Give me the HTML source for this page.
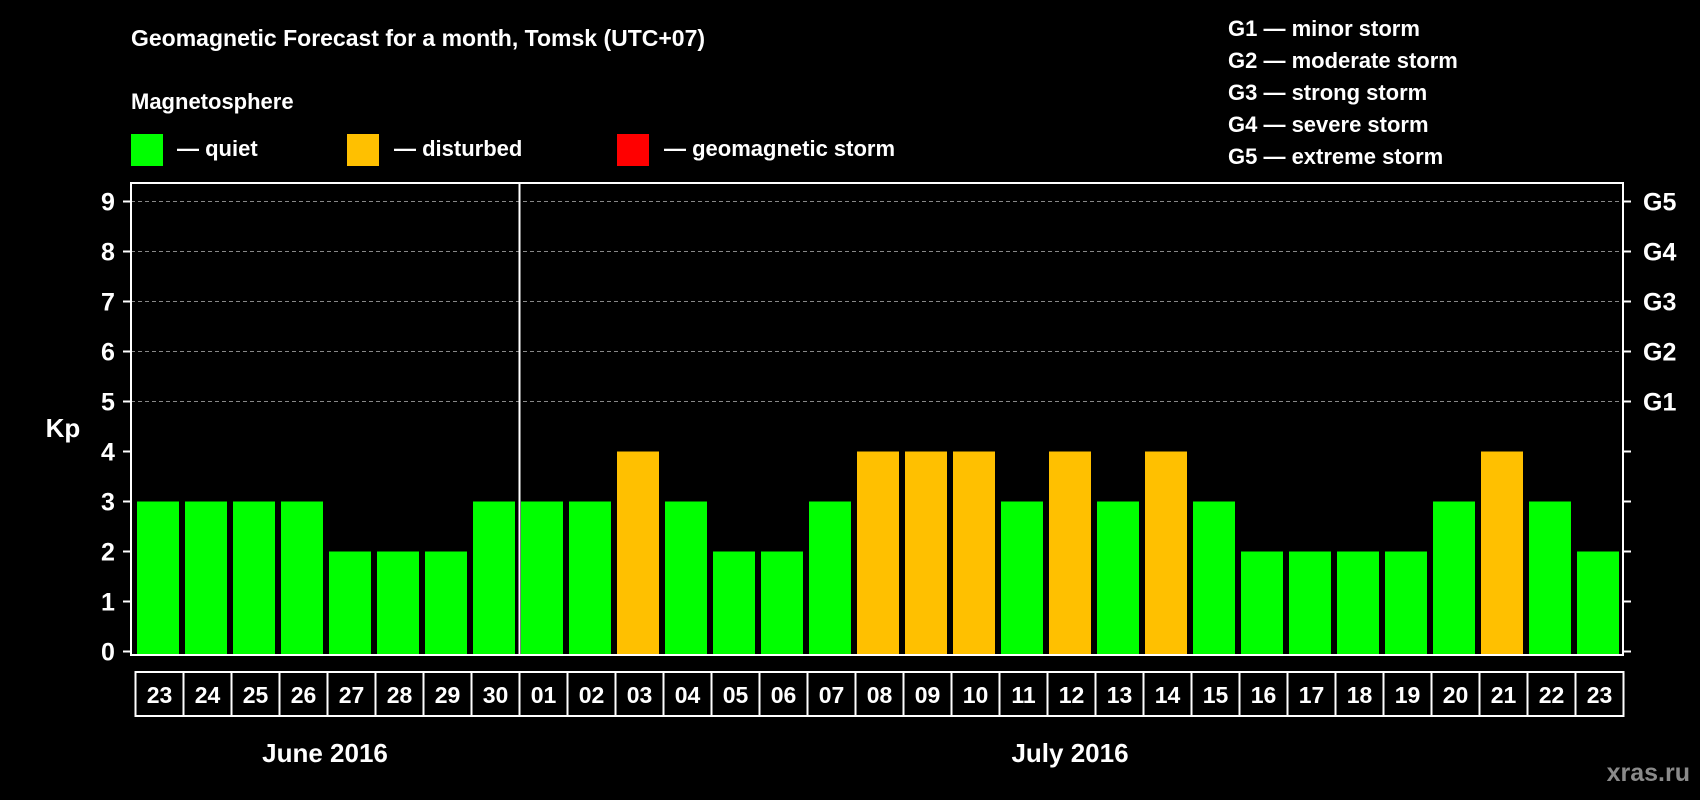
<!DOCTYPE html>
<html><head><meta charset="utf-8"><style>
body{margin:0;background:#000;width:1700px;height:800px;overflow:hidden}
svg{display:block;font-family:"Liberation Sans",sans-serif;font-weight:bold}
</style></head><body>
<svg id="chart" width="1700" height="800" xmlns="http://www.w3.org/2000/svg">
<rect width="1700" height="800" fill="#000"/>
<text x="131" y="46" fill="#fff" font-size="23">Geomagnetic Forecast for a month, Tomsk (UTC+07)</text>
<text x="131" y="109" fill="#fff" font-size="22">Magnetosphere</text>
<rect x="131" y="134" width="32" height="32" fill="#00ff00"/>
<text x="177" y="156" fill="#fff" font-size="22">— quiet</text>
<rect x="347" y="134" width="32" height="32" fill="#ffc000"/>
<text x="394" y="156" fill="#fff" font-size="22">— disturbed</text>
<rect x="617" y="134" width="32" height="32" fill="#ff0000"/>
<text x="664" y="156" fill="#fff" font-size="22">— geomagnetic storm</text>
<g fill="#fff" font-size="22">
<text x="1228" y="36">G1 — minor storm</text>
<text x="1228" y="68">G2 — moderate storm</text>
<text x="1228" y="100">G3 — strong storm</text>
<text x="1228" y="132">G4 — severe storm</text>
<text x="1228" y="164">G5 — extreme storm</text>
</g>
<text x="63" y="437" fill="#fff" font-size="26" text-anchor="middle">Kp</text>
<text x="325" y="762" fill="#fff" font-size="26" text-anchor="middle">June 2016</text>
<text x="1070" y="762" fill="#fff" font-size="26" text-anchor="middle">July 2016</text>
<text x="1690" y="781" fill="#8a8a8a" font-size="25" text-anchor="end">xras.ru</text>
<g id="plot"></g>
</svg>
<script>
const days=["23","24","25","26","27","28","29","30","01","02","03","04","05","06","07","08","09","10","11","12","13","14","15","16","17","18","19","20","21","22","23"];
const kp=[3,3,3,3,2,2,2,3,3,3,4,3,2,2,3,4,4,4,3,4,3,4,3,2,2,2,2,3,4,3,2];
const yTicks=[0,1,2,3,4,5,6,7,8,9];
const gLabels=["G1","G2","G3","G4","G5"];
const gLevels=[5,6,7,8,9];
const monthSplit=8;
const NS="http://www.w3.org/2000/svg";
const g=document.getElementById('plot');
const L=131,R=1623,T=183,B=655,slot0=134,pitch=48,bw=42;
const y=v=>651.5-v*50;
const x=i=>slot0+i*pitch;
function mk(t,a){const e=document.createElementNS(NS,t);for(const k in a)e.setAttribute(k,a[k]);g.appendChild(e);return e;}
gLevels.forEach((v,i)=>{
 const l=mk('line',{x1:L,x2:R,y1:y(v),y2:y(v),stroke:'#888','stroke-dasharray':'4 3','stroke-width':1});
 
 
 const t=mk('text',{x:1643,y:y(v)+9,fill:'#fff','font-size':25});
 t.textContent=gLabels[i];
 
 
});
yTicks.forEach(v=>{
 const a=mk('line',{x1:L-8,x2:L,y1:y(v),y2:y(v),stroke:'#fff','stroke-width':2});
 
 
 const b=mk('line',{x1:R,x2:R+8,y1:y(v),y2:y(v),stroke:'#fff','stroke-width':2});
 
 
 const t=mk('text',{x:108,y:y(v)+9,fill:'#fff','font-size':25,'text-anchor':'middle'});
 t.textContent=v;
 
 
});
const col=v=>v>=5?'#ff0000':(v>=4?'#ffc000':'#00ff00');
kp.forEach((v,i)=>{
 const r=mk('rect',{x:x(i)+3,y:y(v),width:bw,height:B-y(v)-1,fill:col(v)});
 
 
 const bx=mk('rect',{x:x(i)+1.5,y:672,width:pitch,height:44,fill:'none',stroke:'#fff','stroke-width':2});
 
 
 const t=mk('text',{x:x(i)+1.5+pitch/2,y:703,fill:'#fff','font-size':23,'text-anchor':'middle'});
 t.textContent=days[i];
 
 
});
const fr=mk('rect',{x:L,y:T,width:R-L,height:B-T,fill:'none',stroke:'#fff','stroke-width':2});


const dv=mk('line',{x1:x(monthSplit)+1.5,x2:x(monthSplit)+1.5,y1:T,y2:B,stroke:'#fff','stroke-width':2});


</script>
</body></html>
